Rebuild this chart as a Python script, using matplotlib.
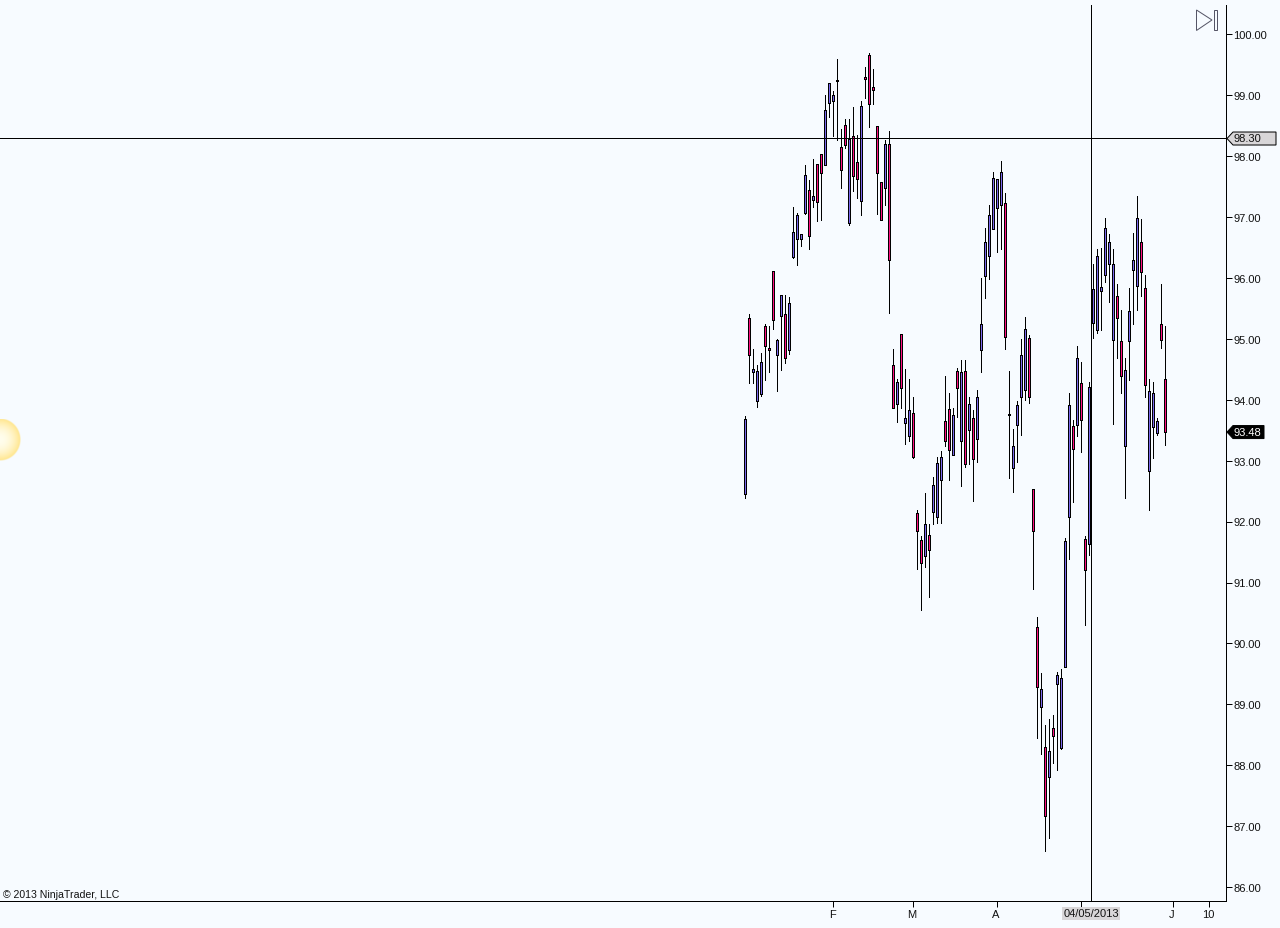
import numpy as np
import matplotlib
matplotlib.use("Agg")
import matplotlib.pyplot as plt
from matplotlib.patches import Polygon, Rectangle
from matplotlib.transforms import ScaledTranslation

plt.rcParams['font.family'] = ['Liberation Sans', 'DejaVu Sans']

# Bar values (open, high, low, close), left to right
opens = [92.45,95.34,94.45,93.99,94.10,95.21,94.85,96.11,94.74,95.37,95.41,94.82,96.35,96.65,96.64,97.07,
         97.44,97.29,97.87,98.03,97.85,98.87,98.90,99.26,98.15,98.51,96.90,98.33,97.90,97.27,99.31,99.66,
         99.13,98.49,97.57,97.48,98.21,94.57,93.93,95.08,93.62,93.40,93.79,92.14,91.70,91.44,91.78,92.16,
         92.07,92.69,93.65,93.85,93.10,94.47,93.32,94.47,93.51,93.70,93.36,94.82,96.04,96.36,96.80,97.15,
         97.20,97.23,93.77,92.88,93.59,94.04,94.16,95.01,92.53,90.27,88.96,88.30,87.80,88.61,89.33,88.29,
         89.62,92.07,93.57,93.58,94.27,91.71,91.63,95.27,95.14,95.78,96.05,96.23,94.98,95.70,94.96,93.24,
         94.96,96.14,95.87,96.59,95.83,92.83,93.55,93.45,95.24,94.34]
highs = [93.74,95.41,94.83,94.57,94.77,95.24,95.21,96.11,95.00,95.73,95.72,95.69,97.16,97.07,96.72,97.86,
         97.61,97.96,97.88,98.03,99.00,99.20,99.08,99.60,98.45,98.62,98.61,98.81,98.35,98.91,99.46,99.69,
         99.43,98.49,97.57,98.26,98.42,94.84,94.34,95.08,94.50,94.34,94.04,92.19,91.76,92.47,91.96,92.73,
         93.06,93.16,94.39,94.11,93.86,94.52,94.65,94.65,94.04,93.83,94.16,96.00,96.83,97.20,97.74,97.62,
         97.93,97.39,94.47,93.53,93.98,95.00,95.36,95.06,92.53,90.44,89.51,88.66,88.76,88.82,89.54,89.58,
         91.73,94.11,93.67,94.88,94.63,91.77,94.29,96.23,96.47,96.49,96.98,96.72,96.47,95.90,95.47,94.68,
         95.83,96.74,97.34,96.97,96.05,94.34,94.29,93.70,95.91,95.21]
lows = [92.39,94.28,94.28,93.89,94.07,94.32,94.46,95.16,94.14,94.49,94.61,94.76,96.33,96.22,96.53,97.05,
        96.48,97.16,96.93,96.95,97.85,98.65,98.33,98.27,97.48,98.14,96.87,97.43,97.32,97.04,98.96,98.48,
        98.86,97.05,96.96,97.20,95.43,93.86,93.63,93.86,93.28,93.33,93.04,91.23,90.55,91.25,90.77,91.97,
        91.98,91.98,93.24,92.69,93.10,93.72,92.59,92.90,92.94,92.34,92.98,94.46,95.68,95.99,96.80,96.43,
        96.48,94.84,92.71,92.49,92.98,93.43,94.00,93.95,90.90,88.45,88.19,86.59,86.81,88.04,87.93,88.27,
        89.62,91.38,92.33,93.40,93.15,90.31,91.45,95.02,95.10,95.15,95.94,95.60,93.61,94.69,94.12,92.39,
        94.33,95.25,95.47,95.71,94.04,92.20,93.04,93.43,94.86,93.26]
closes = [93.68,94.73,94.51,94.47,94.62,94.88,94.82,95.32,94.98,95.72,94.68,95.59,96.75,97.03,96.72,97.69,
          96.69,97.34,97.25,97.72,98.76,99.20,99.00,99.24,97.78,98.19,98.29,97.68,97.62,98.82,99.27,98.86,
          99.09,97.72,96.96,98.21,96.29,93.87,94.29,94.20,93.71,93.83,93.07,91.85,91.32,91.96,91.54,92.60,
          92.96,93.07,93.33,93.18,93.75,94.20,94.45,92.95,93.94,93.03,94.04,95.24,96.59,97.03,97.64,97.62,
          97.74,95.03,93.75,93.25,93.91,94.73,95.16,94.04,91.84,89.29,89.25,87.16,88.23,88.48,89.48,89.43,
          91.68,93.91,93.20,94.68,93.67,91.20,94.21,95.82,96.36,95.85,96.82,96.59,96.23,95.34,94.39,94.49,
          95.46,96.29,96.98,96.10,94.24,94.14,94.11,93.65,94.98,93.48]

price_ticks = [86, 87, 88, 89, 90, 91, 92, 93, 94, 95, 96, 97, 98, 99, 100]
date_ticks = [22, 42, 63, 84, 107, 116]
date_labels = ['F', 'M', 'A', '', 'J', '10']
cross_price = 98.30
cross_bar = 86.5
cross_date = '04/05/2013'
last_price = 93.48
copyright_text = '\u00a9 2013 NinjaTrader, LLC'

BG = '#F7FBFF'
UP = '#7B68EE'
DOWN = '#FF0F80'
W, H = 1280, 928
PX = 0.72

fig = plt.figure(figsize=(W / 100, (H + 0.01) / 100), dpi=100, facecolor=BG)
ax = fig.add_axes([0, 1 - 901.5 / H, 1225.6 / W, 896.5 / H], facecolor=BG)
ax.set_xlim(-745.0 / 4, (1225.6 - 745.0) / 4)
ax.set_ylim(100 - (901.5 - 34.5) / 60.9, 100 - (5 - 34.5) / 60.9)

for s in ('top', 'left'):
    ax.spines[s].set_visible(False)
for s in ('right', 'bottom'):
    ax.spines[s].set_linewidth(PX)

idx = np.arange(len(opens))
o, h, l, c = map(np.array, (opens, highs, lows, closes))
colors = [UP if b >= a else DOWN for a, b in zip(o, c)]
ax.vlines(idx, l, h, color='black', lw=PX, antialiased=False, zorder=2)
ax.bar(idx, np.abs(c - o), bottom=np.minimum(o, c), width=0.5, color=colors,
       edgecolor='black', linewidth=PX, antialiased=False, zorder=3)

ax.axhline(cross_price, color='black', lw=PX, antialiased=False, zorder=4)
ax.axvline(cross_bar, color='black', lw=PX, antialiased=False, zorder=4)

ax.yaxis.tick_right()
ax.set_yticks(price_ticks)
ax.set_yticklabels([f'{p:.2f}' for p in price_ticks])
ax.set_xticks(date_ticks)
ax.set_xticklabels(date_labels)
ax.tick_params(axis='y', length=4.3, width=PX, pad=1.2, labelsize=8, labelcolor='#111111')
ax.tick_params(axis='x', length=4.3, width=PX, pad=2, labelsize=8, labelcolor='#111111')
nudge_x = ScaledTranslation(-1 / 100, 0, fig.dpi_scale_trans)
for lab in ax.get_xticklabels():
    lab.set_transform(lab.get_transform() + nudge_x)
nudge_y = ScaledTranslation(0, -0.7 / 100, fig.dpi_scale_trans)
for lab in ax.get_yticklabels():
    lab.set_transform(lab.get_transform() + nudge_y)

fig.canvas.draw()


def to_fig(px, py):
    return px / W, 1 - py / H


def price_y(p):
    return H - ax.transData.transform((0, p))[1]


def tag(price, face, text_color, x1, label):
    y = price_y(price) + 0.5
    pts = [(1227, y), (1233, y - 6.5), (x1, y - 6.5), (x1, y + 6.5), (1233, y + 6.5)]
    fig.add_artist(Polygon([to_fig(*p) for p in pts], closed=True, transform=fig.transFigure,
                           facecolor=face, edgecolor='black', linewidth=PX, zorder=6))
    fx, fy = to_fig(1234, y + 0.6)
    fig.text(fx, fy, label, color=text_color, fontsize=8, va='center', ha='left', zorder=7)


tag(cross_price, '#D8D6D8', '#111111', 1276, f'{cross_price:.2f}')
tag(last_price, 'black', 'white', 1264, f'{last_price:.2f}')

# date tag under the vertical crosshair
fx = ax.transData.transform((cross_bar, 0))[0] / W
fig.text(fx, 1 - 913.5 / H, cross_date, fontsize=8, color='#111111', ha='center', va='center', zorder=7,
         bbox=dict(facecolor='#D8D6D8', edgecolor='none', boxstyle='square,pad=0.12'))

fx, fy = to_fig(3, 895)
fig.text(fx, fy, copyright_text, fontsize=7.6, color='#111111', ha='left', va='center', zorder=7)

# "jump to latest" icon
tri = [(1196.5, 10), (1212, 20), (1196.5, 30.5)]
fig.add_artist(Polygon([to_fig(*p) for p in tri], closed=True, transform=fig.transFigure,
                       facecolor=BG, edgecolor='#555566', linewidth=PX, zorder=6))
rx, ry = to_fig(1213.5, 30.5)
fig.add_artist(Rectangle((rx, ry), 3.2 / W, 20.3 / H, transform=fig.transFigure,
                         facecolor=BG, edgecolor='#555566', linewidth=PX, zorder=6))

# glowing ball on the left edge
ball = fig.add_axes([0, 1 - 461.5 / H, 21 / W, 42 / H], zorder=8)
ball.axis('off')
yy, xx = np.mgrid[-21:21:168j, 0:21:84j]
r = np.hypot(xx, yy) / 20
rgba = np.zeros(r.shape + (4,))
t = np.clip(r, 0, 1) ** 2
rgba[..., 0] = 1.0
rgba[..., 1] = 0.995 - 0.09 * t
rgba[..., 2] = 0.93 - 0.36 * t
rgba[..., 3] = np.clip((1 - r) * 20 + 1, 0, 1) * (r <= 1.05)
ball.imshow(rgba, extent=(0, 21, -21, 21), aspect='auto', interpolation='bilinear')

fig.savefig('out.png', dpi=100, facecolor=BG)
